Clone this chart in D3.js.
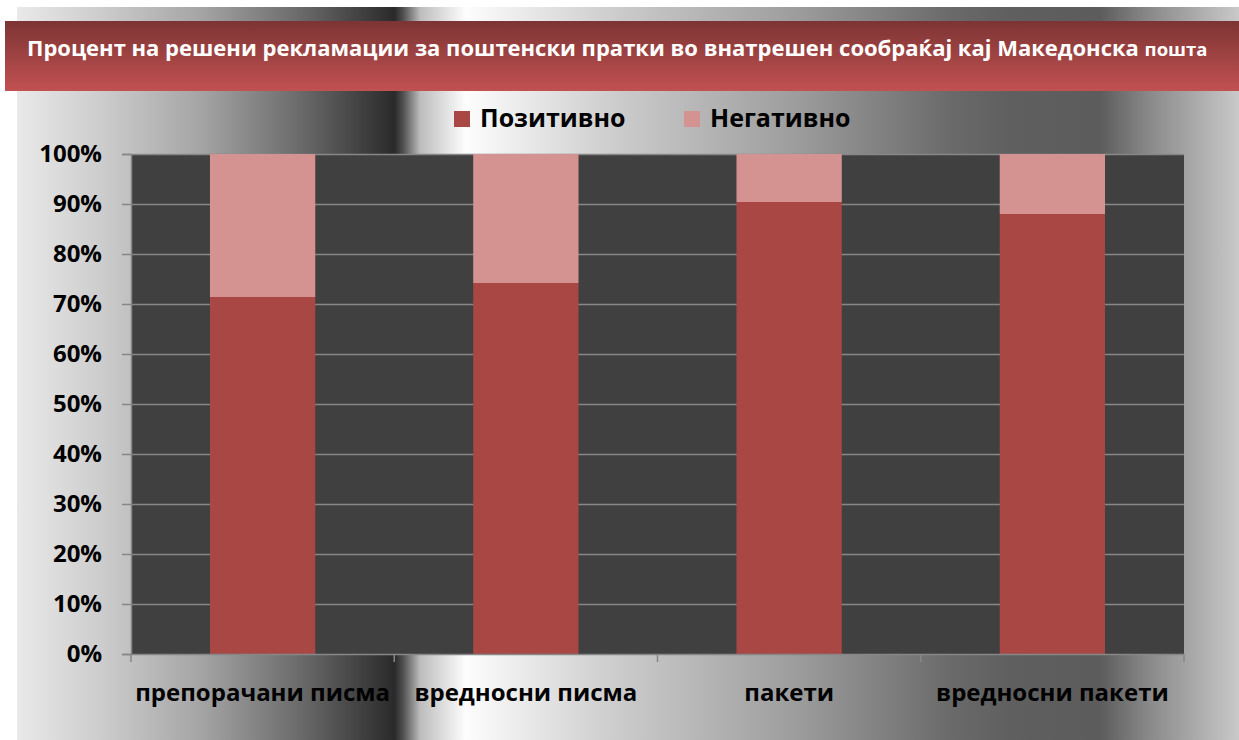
<!DOCTYPE html>
<html>
<head>
<meta charset="utf-8">
<script src="https://cdn.jsdelivr.net/npm/d3@7"></script>
<style>
  html, body { margin: 0; padding: 0; background: #fff; }
  svg { display: block; font-family: "Open Sans", "Noto Sans", sans-serif; }
</style>
</head>
<body>
<div id="chart"></div>
<script>
// chart data
const categories = ["препорачани писма", "вредносни писма", "пакети", "вредносни пакети"];
const positive = [71.4, 74.2, 90.4, 88.0];
const negative = [28.6, 25.8, 9.6, 12.0];
const seriesNames = ["Позитивно", "Негативно"];
const yTicks = [0, 10, 20, 30, 40, 50, 60, 70, 80, 90, 100];

(function () {
  const W = 1239, H = 740;
  const plot = { left: 131, top: 154, right: 1184, bottom: 654 };
  const colors = ["#a94745", "#d49391"];

  const svg = d3.select("#chart").append("svg")
      .attr("width", W)
      .attr("height", H);

  const defs = svg.append("defs");

  // metallic background gradient
  const bg = defs.append("linearGradient").attr("id", "bg")
      .attr("x1", "0%").attr("x2", "100%").attr("y1", "0%").attr("y2", "0%");
  [[0, "#e9e9e9"], [6.8, "#cdcdcd"], [15, "#a5a5a5"], [23.2, "#6a6a6a"], [30.9, "#2a2a2a"],
   [31.6, "#505050"], [33, "#bdbdbd"], [36.7, "#fdfdfd"], [49.3, "#cbcbcb"], [64, "#9c9c9c"],
   [76.4, "#6a6a6a"], [81.3, "#5f5f5f"], [88.6, "#5c5c5c"], [92.7, "#8a8a8a"], [100, "#c9c9c9"]]
    .forEach(s => bg.append("stop").attr("offset", s[0] + "%").attr("stop-color", s[1]));

  const tg = defs.append("linearGradient").attr("id", "titlebar")
      .attr("x1", "0%").attr("x2", "0%").attr("y1", "0%").attr("y2", "100%");
  tg.append("stop").attr("offset", "0%").attr("stop-color", "#7d3434");
  tg.append("stop").attr("offset", "100%").attr("stop-color", "#c25151");

  svg.append("rect").attr("x", 17).attr("y", 7).attr("width", W - 17).attr("height", H - 7)
      .attr("fill", "url(#bg)");

  // title bar
  svg.append("rect").attr("x", 5).attr("y", 21).attr("width", W - 5).attr("height", 70)
      .attr("fill", "url(#titlebar)");

  const title = svg.append("text")
      .attr("x", 27).attr("y", 56)
      .attr("fill", "#fff")
      .style("font-weight", "bold")
      .style("font-size", "22px");
  title.append("tspan").text("Процент на решени рекламации за поштенски пратки во внатрешен сообраќај кај Македонска ");
  title.append("tspan").style("font-size", "18.5px").text("пошта");

  // scales
  const x = d3.scaleBand().domain(categories)
      .range([plot.left, plot.right])
      .paddingInner(0.6).paddingOuter(0.3);
  const y = d3.scaleLinear().domain([0, 100]).range([plot.bottom, plot.top]);

  // plot area
  svg.append("rect")
      .attr("x", plot.left).attr("y", plot.top)
      .attr("width", plot.right - plot.left).attr("height", plot.bottom - plot.top)
      .attr("fill", "#404040");

  // gridlines
  svg.append("g").selectAll("line").data(yTicks.filter(d => d > 0)).join("line")
      .attr("x1", plot.left).attr("x2", plot.right)
      .attr("y1", d => y(d) + 0.5).attr("y2", d => y(d) + 0.5)
      .attr("stroke", "#878787").attr("stroke-width", 1.5);

  // stacked bars
  const rows = categories.map((c, i) => ({ cat: c, pos: positive[i], neg: negative[i] }));
  const stack = d3.stack().keys(["pos", "neg"])(rows);

  svg.append("g").selectAll("g").data(stack).join("g")
      .attr("fill", (d, i) => colors[i])
      .selectAll("rect").data(d => d).join("rect")
      .attr("x", d => x(d.data.cat))
      .attr("width", x.bandwidth())
      .attr("y", d => y(d[1]))
      .attr("height", d => y(d[0]) - y(d[1]));

  // y axis
  const yAxis = svg.append("g")
      .attr("transform", `translate(${plot.left},0)`)
      .call(d3.axisLeft(y).tickValues(yTicks).tickSize(9).tickPadding(20).tickFormat(d => d + "%"));
  yAxis.select(".domain").attr("stroke", "#878787").attr("stroke-width", 1.5);
  yAxis.selectAll(".tick line").attr("stroke", "#878787").attr("stroke-width", 1.5);
  yAxis.selectAll(".tick text")
      .attr("fill", "#000")
      .style("font-size", "24px")
      .style("font-weight", "bold")
      .style("font-family", "'Open Sans', sans-serif");

  // x axis (ticks on category boundaries)
  const bounds = categories.map(c => x(c) - x.step() * x.paddingOuter()).concat([plot.right]);
  const xg = svg.append("g");
  xg.append("line")
      .attr("x1", plot.left).attr("x2", plot.right)
      .attr("y1", plot.bottom + 0.5).attr("y2", plot.bottom + 0.5)
      .attr("stroke", "#878787").attr("stroke-width", 1.5);
  xg.selectAll("line.tk").data(bounds).join("line").attr("class", "tk")
      .attr("x1", d => d).attr("x2", d => d)
      .attr("y1", plot.bottom).attr("y2", plot.bottom + 8)
      .attr("stroke", "#878787").attr("stroke-width", 1.5);
  xg.selectAll("text").data(categories).join("text")
      .attr("x", d => x(d) + x.bandwidth() / 2)
      .attr("y", 701)
      .attr("text-anchor", "middle")
      .style("font-size", "24px")
      .style("font-weight", "bold")
      .text(d => d);

  // legend
  const legendX = [454, 684];
  const lg = svg.append("g").selectAll("g").data(seriesNames).join("g")
      .attr("transform", (d, i) => `translate(${legendX[i]},111)`);
  lg.append("rect").attr("width", 16).attr("height", 16).attr("fill", (d, i) => colors[i]);
  lg.append("text")
      .attr("x", 26).attr("y", 16)
      .style("font-size", "25px")
      .style("font-weight", "bold")
      .text(d => d);
})();
</script>
</body>
</html>
